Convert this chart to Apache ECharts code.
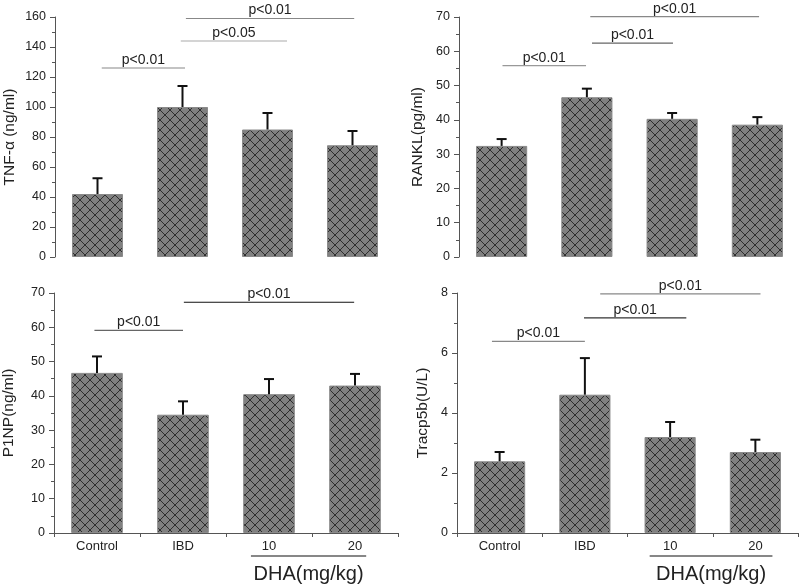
<!DOCTYPE html>
<html>
<head>
<meta charset="utf-8">
<script src="https://cdn.jsdelivr.net/npm/echarts@6/dist/echarts.min.js"></script>
<style>
  html, body { margin: 0; padding: 0; background: #fff; }
  #chart { width: 800px; height: 587px; }
</style>
</head>
<body>
<div id="chart"></div>
<script>
    // groups on the x axis
    var categories = ['Control', 'IBD', '10', '20']

    // means and SD (upper error bar) per panel
    var tnfMean = [42, 100, 85, 74.5]
    var tnfSd = [10.5, 14, 11, 9.5]
    var ranklMean = [32.4, 46.6, 40.3, 38.6]
    var ranklSd = [2.0, 2.5, 1.7, 2.2]
    var p1npMean = [46.7, 34.5, 40.5, 43.0]
    var p1npSd = [4.8, 3.9, 4.4, 3.4]
    var tracpMean = [2.39, 4.61, 3.2, 2.7]
    var tracpSd = [0.31, 1.22, 0.5, 0.41]

    // significance brackets: [from, to, y, text, colour], x in group units (0..4)
    var tnfSig = [[0.55, 1.53, 126, 'p<0.01', '#888'], [1.48, 2.73, 144, 'p<0.05', '#aaa'], [1.54, 3.52, 159, 'p<0.01', '#888']]
    var ranklSig = [[0.51, 1.49, 55.8, 'p<0.01', '#999'], [1.56, 2.51, 62.4, 'p<0.01', '#666'], [1.54, 3.52, 70.1, 'p<0.01', '#888']]
    var p1npSig = [[0.47, 1.50, 59.1, 'p<0.01', '#666'], [1.51, 3.49, 67.3, 'p<0.01', '#111']]
    var tracpSig = [[0.41, 1.50, 6.39, 'p<0.01', '#888'], [1.49, 2.69, 7.17, 'p<0.01', '#333'], [1.68, 3.56, 7.97, 'p<0.01', '#888']]

    // DHA dose bracket under the 10 / 20 groups
    var dhaLeft = [[2.29, 3.63, 'DHA(mg/kg)']]
    var dhaRight = [[2.26, 3.70, 'DHA(mg/kg)']]

    var FONT = '"Liberation Sans", Arial, sans-serif'

    function hatch () {
        var c = document.createElement('canvas')
        c.width = 10
        c.height = 10
        var ctx = c.getContext('2d')
        ctx.fillStyle = '#808080'
        ctx.fillRect(0, 0, 10, 10)
        ctx.strokeStyle = '#2e2e2e'
        ctx.lineWidth = 1
        ctx.beginPath()
        ctx.moveTo(-1, -1); ctx.lineTo(11, 11)
        ctx.moveTo(11, -1); ctx.lineTo(-1, 11)
        ctx.stroke()
        return c
    }
    var pattern = hatch()

    var panels = [
        { left: 55, top: 17, width: 340, name: 'TNF-α (ng/ml)', gap: 37, max: 160, step: 20, mean: tnfMean, sd: tnfSd, sig: tnfSig, bottom: false },
        { left: 459, top: 17, width: 341, name: 'RANKL(pg/ml)', gap: 33, max: 70, step: 10, mean: ranklMean, sd: ranklSd, sig: ranklSig, bottom: false },
        { left: 54, top: 293, width: 344, name: 'P1NP(ng/ml)', gap: 37, max: 70, step: 10, mean: p1npMean, sd: p1npSd, sig: p1npSig, bottom: true, dha: dhaLeft },
        { left: 457, top: 293, width: 341, name: 'Tracp5b(U/L)', gap: 26, max: 8, step: 2, mean: tracpMean, sd: tracpSd, sig: tracpSig, bottom: true, dha: dhaRight }
    ]

    var grid = [], xAxis = [], yAxis = [], series = []

    panels.forEach(function (p, k) {
        grid.push({ left: p.left, top: p.top, width: p.width, height: 240 })
        xAxis.push({
            type: 'category',
            gridIndex: k,
            data: categories,
            axisLine: { show: p.bottom, lineStyle: { color: '#555' } },
            axisTick: { show: p.bottom, length: 4, lineStyle: { color: '#555' } },
            axisLabel: { show: p.bottom, fontSize: 13, color: '#222', fontFamily: FONT, margin: 7 },
            splitLine: { show: false }
        })
        xAxis.push({ type: 'value', gridIndex: k, min: 0, max: 4, show: false })
        yAxis.push({
            type: 'value',
            gridIndex: k,
            min: 0,
            max: p.max,
            interval: p.step,
            name: p.name,
            nameLocation: 'middle',
            nameGap: p.gap,
            nameTextStyle: { fontSize: 15.5, color: '#222', fontFamily: FONT },
            axisLine: { show: true, lineStyle: { color: '#555' } },
            axisTick: { show: true, length: 5, lineStyle: { color: '#555' } },
            minorTick: { show: true, splitNumber: 2, length: 3, lineStyle: { color: '#555' } },
            axisLabel: { fontSize: 12.5, color: '#222', fontFamily: FONT, margin: 9 },
            splitLine: { show: false }
        })

        series.push({
            type: 'bar',
            xAxisIndex: 2 * k,
            yAxisIndex: k,
            barWidth: '60%',
            data: p.mean,
            silent: true,
            itemStyle: { color: { image: pattern, repeat: 'repeat' }, borderColor: '#8a8a8a', borderWidth: 1 }
        })

        series.push({
            type: 'custom',
            xAxisIndex: 2 * k,
            yAxisIndex: k,
            silent: true,
            z: 5,
            data: p.mean.map(function (m, i) { return [i, m, m + p.sd[i]] }),
            renderItem: function (params, api) {
                var a = api.coord([api.value(0), api.value(1)])
                var b = api.coord([api.value(0), api.value(2)])
                var st = { stroke: '#111', lineWidth: 2 }
                return {
                    type: 'group',
                    children: [
                        { type: 'line', shape: { x1: a[0], y1: a[1], x2: b[0], y2: b[1] }, style: st },
                        { type: 'line', shape: { x1: b[0] - 5, y1: b[1], x2: b[0] + 5, y2: b[1] }, style: st }
                    ]
                }
            }
        })

        series.push({
            type: 'custom',
            xAxisIndex: 2 * k + 1,
            yAxisIndex: k,
            silent: true,
            clip: false,
            data: p.sig,
            renderItem: function (params, api) {
                var item = p.sig[params.dataIndex]
                var a = api.coord([item[0], item[2]])
                var b = api.coord([item[1], item[2]])
                return {
                    type: 'group',
                    children: [
                        { type: 'line', shape: { x1: a[0], y1: a[1], x2: b[0], y2: b[1] }, style: { stroke: item[4], lineWidth: 1.2 } },
                        { type: 'text', style: { text: item[3], x: (a[0] + b[0]) / 2, y: a[1] - 1, align: 'center', verticalAlign: 'bottom', fontSize: 14, fontFamily: FONT, fill: '#222' } }
                    ]
                }
            }
        })

        if (p.dha) {
            series.push({
                type: 'custom',
                xAxisIndex: 2 * k + 1,
                yAxisIndex: k,
                silent: true,
                clip: false,
                data: p.dha,
                renderItem: function (params, api) {
                    var item = p.dha[params.dataIndex]
                    var a = api.coord([item[0], 0])
                    var b = api.coord([item[1], 0])
                    return {
                        type: 'group',
                        children: [
                            { type: 'line', shape: { x1: a[0], y1: a[1] + 23, x2: b[0], y2: b[1] + 23 }, style: { stroke: '#111', lineWidth: 1.2 } },
                            { type: 'text', style: { text: item[2], x: (a[0] + b[0]) / 2, y: a[1] + 41, align: 'center', verticalAlign: 'middle', fontSize: 20, fontFamily: FONT, fill: '#222' } }
                        ]
                    }
                }
            })
        }
    })

    var chart = echarts.init(document.getElementById('chart'))
    chart.setOption({
        animation: false,
        backgroundColor: '#fff',
        grid: grid,
        xAxis: xAxis,
        yAxis: yAxis,
        series: series
    })
</script>
</body>
</html>
